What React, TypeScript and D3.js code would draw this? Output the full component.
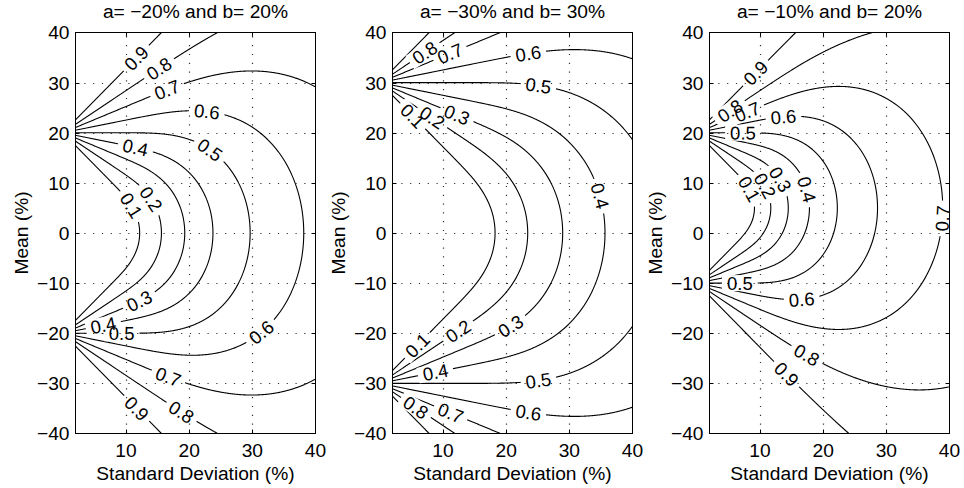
import React, { useMemo } from 'react';
import * as d3 from 'd3';

// ---- data ----
const PANEL_TITLES = ['a= \u221220% and b= 20%', 'a= \u221230% and b= 30%', 'a= \u221210% and b= 20%'];
const LOWER_A = [-20, -30, -10];
const UPPER_B = [20, 30, 20];
const LEVELS = [0.1, 0.2, 0.3, 0.4, 0.5, 0.6, 0.7, 0.8, 0.9];
const SD_DOMAIN = [2, 40];
const MEAN_DOMAIN = [-40, 40];
const X_TICKS = [10, 20, 30, 40];
const Y_TICKS = [-40, -30, -20, -10, 0, 10, 20, 30, 40];
const GRID_X = [10, 20, 30];
const GRID_Y = [-30, -20, -10, 0, 10, 20, 30];

// contour label positions [level, sd, mean]
const LABELS_P1 = [
  [0.9, 11.7, 34.8], [0.8, 15.1, 33.1], [0.7, 16.5, 28.6], [0.6, 22.8, 23.8], [0.5, 23.1, 16.2],
  [0.4, 11.45, 16.9], [0.2, 13.6, 6.5], [0.1, 10.4, 5.2], [0.3, 12.0, -13.4], [0.4, 6.4, -18.6],
  [0.5, 9.3, -20.4], [0.6, 31.2, -19.5], [0.7, 16.7, -28.7], [0.9, 11.7, -35.0], [0.8, 18.6, -36.0],
];
const LABELS_P2 = [
  [0.8, 7.2, 35.8], [0.7, 11.1, 35.8], [0.6, 23.5, 35.8], [0.5, 25.1, 29.2], [0.1, 5.1, 23.2],
  [0.2, 8.2, 22.8], [0.3, 12.2, 23.5], [0.4, 34.4, 7.2], [0.1, 5.9, -22.4], [0.2, 12.5, -19.7],
  [0.3, 20.8, -18.7], [0.4, 8.8, -28.0], [0.5, 25.1, -29.7], [0.6, 23.5, -36.0], [0.8, 5.6, -35.0],
  [0.7, 11.1, -36.0],
];
const LABELS_P3 = [
  [0.9, 9.4, 31.8], [0.8, 5.2, 24.5], [0.7, 7.9, 24.5], [0.6, 13.7, 23.0], [0.5, 7.3, 19.7],
  [0.4, 16.8, 8.5], [0.3, 12.6, 10.2], [0.2, 10.0, 8.9], [0.1, 7.9, 8.5], [0.7, 38.7, 2.9],
  [0.5, 6.8, -10.1], [0.6, 16.6, -13.3], [0.8, 17.4, -24.4], [0.9, 14.0, -28.4],
];
const PANEL_LABELS = [LABELS_P1, LABELS_P2, LABELS_P3];

// ---- layout ----
const W = 964;
const H = 488;
const PANEL_LEFT = [75.5, 392.5, 709.5];
const PANEL_W = 240;
const TOP = 32.5;
const BOTTOM = 433.5;
const FONT = '"Liberation Sans", Arial, Helvetica, sans-serif';
const FS = 19.2;
const LFS = 18.5;
const SD_STEP = 0.1;
const MEAN_STEP = 0.1;

function erf(x: number) {
  const sign = x < 0 ? -1 : 1;
  const ax = Math.abs(x);
  const t = 1 / (1 + 0.3275911 * ax);
  const y = 1 - ((((1.061405429 * t - 1.453152027) * t + 1.421413741) * t - 0.284496736) * t + 0.254829592) * t * Math.exp(-ax * ax);
  return sign * y;
}
const Phi = (z: number) => 0.5 * (1 + erf(z / Math.SQRT2));

// probability of ending outside [a, b] for a normal with the given mean and sd
function outside(a: number, b: number, m: number, s: number) {
  return Phi((a - m) / s) + 1 - Phi((b - m) / s);
}

type Pt = [number, number];

function contourLines(vals: Float64Array, nx: number, ny: number, xs: number[], ys: number[], level: number): Pt[][] {
  const pts = new Map<number, Pt>();
  const adj = new Map<number, number[]>();
  const H_ = (i: number, j: number) => 2 * (j * nx + i);
  const V_ = (i: number, j: number) => 2 * (j * nx + i) + 1;
  const getPt = (id: number): Pt => {
    let p = pts.get(id);
    if (p) return p;
    const base = id >> 1;
    const i = base % nx;
    const j = Math.floor(base / nx);
    if ((id & 1) === 0) {
      const va = vals[j * nx + i], vb = vals[j * nx + i + 1];
      const t = (level - va) / (vb - va);
      p = [xs[i] + t * (xs[i + 1] - xs[i]), ys[j]];
    } else {
      const va = vals[j * nx + i], vb = vals[(j + 1) * nx + i];
      const t = (level - va) / (vb - va);
      p = [xs[i], ys[j] + t * (ys[j + 1] - ys[j])];
    }
    pts.set(id, p);
    return p;
  };
  const link = (a: number, b: number) => {
    getPt(a); getPt(b);
    if (!adj.has(a)) adj.set(a, []);
    if (!adj.has(b)) adj.set(b, []);
    adj.get(a)!.push(b);
    adj.get(b)!.push(a);
  };
  for (let j = 0; j < ny - 1; j++) {
    for (let i = 0; i < nx - 1; i++) {
      const v00 = vals[j * nx + i], v10 = vals[j * nx + i + 1];
      const v01 = vals[(j + 1) * nx + i], v11 = vals[(j + 1) * nx + i + 1];
      const c = (v00 > level ? 1 : 0) | (v10 > level ? 2 : 0) | (v11 > level ? 4 : 0) | (v01 > level ? 8 : 0);
      if (c === 0 || c === 15) continue;
      const bottom = H_(i, j), top = H_(i, j + 1), left = V_(i, j), right = V_(i + 1, j);
      if (c === 5 || c === 10) {
        const center = (v00 + v10 + v01 + v11) / 4 > level;
        if ((c === 5) === center) {
          link(bottom, right); link(top, left);
        } else {
          link(bottom, left); link(right, top);
        }
        continue;
      }
      const es: number[] = [];
      if ((v00 > level) !== (v10 > level)) es.push(bottom);
      if ((v10 > level) !== (v11 > level)) es.push(right);
      if ((v01 > level) !== (v11 > level)) es.push(top);
      if ((v00 > level) !== (v01 > level)) es.push(left);
      if (es.length === 2) link(es[0], es[1]);
    }
  }
  const lines: Pt[][] = [];
  const take = (start: number) => {
    const line: Pt[] = [pts.get(start)!];
    let cur = start;
    for (;;) {
      const nb = adj.get(cur);
      if (!nb || nb.length === 0) break;
      const nxt = nb.pop()!;
      const l2 = adj.get(nxt)!;
      const k = l2.indexOf(cur);
      if (k >= 0) l2.splice(k, 1);
      line.push(pts.get(nxt)!);
      cur = nxt;
    }
    return line;
  };
  for (const [id, nb] of adj) if (nb.length === 1) lines.push(take(id));
  for (const [id, nb] of adj) if (nb.length > 0) lines.push(take(id));
  return lines;
}

function Panel({ p }: { p: number }) {
  const left = PANEL_LEFT[p];
  const x = d3.scaleLinear().domain(SD_DOMAIN).range([left, left + PANEL_W]);
  const y = d3.scaleLinear().domain(MEAN_DOMAIN).range([BOTTOM, TOP]);

  const { paths, labels } = useMemo(() => {
    const xs = d3.range(SD_DOMAIN[0], SD_DOMAIN[1] + SD_STEP / 2, SD_STEP);
    const ys = d3.range(MEAN_DOMAIN[0], MEAN_DOMAIN[1] + MEAN_STEP / 2, MEAN_STEP);
    const nx = xs.length, ny = ys.length;
    const vals = new Float64Array(nx * ny);
    for (let j = 0; j < ny; j++)
      for (let i = 0; i < nx; i++) vals[j * nx + i] = outside(LOWER_A[p], UPPER_B[p], ys[j], xs[i]);
    const byLevel = new Map<number, Pt[][]>();
    for (const lv of LEVELS) {
      const lines = contourLines(vals, nx, ny, xs, ys, lv).map((l) => l.map(([s, m]) => [x(s), y(m)] as Pt));
      byLevel.set(lv, lines);
    }
    const line = d3.line<Pt>().x((d) => d[0]).y((d) => d[1]);
    const paths: string[] = [];
    byLevel.forEach((lines) => lines.forEach((l) => { if (l.length > 1) paths.push(line(l) || ''); }));
    const labels = PANEL_LABELS[p].map(([lv, s0, m0]) => {
      const px = x(s0), py = y(m0);
      let best = Infinity, bl: Pt[] | null = null, bk = 0;
      for (const l of byLevel.get(lv) || []) {
        for (let k = 0; k < l.length; k++) {
          const d = (l[k][0] - px) ** 2 + (l[k][1] - py) ** 2;
          if (d < best) { best = d; bl = l; bk = k; }
        }
      }
      if (!bl) return null;
      const a = bl[Math.max(0, bk - 5)], b = bl[Math.min(bl.length - 1, bk + 5)];
      let ang = (Math.atan2(b[1] - a[1], b[0] - a[0]) * 180) / Math.PI;
      if (ang > 90) ang -= 180;
      if (ang < -90) ang += 180;
      return { lv, cx: bl[bk][0], cy: bl[bk][1], ang };
    }).filter(Boolean) as { lv: number; cx: number; cy: number; ang: number }[];
    return { paths, labels };
  }, [p]);

  const maskId = `gap${p}`;
  const tw = LFS * 1.39;
  const fmt = (v: number) => (v < 0 ? '\u2212' + Math.abs(v) : String(v));

  return (
    <g>
      <defs>
        <mask id={maskId} maskUnits="userSpaceOnUse" x={0} y={0} width={W} height={H}>
          <rect x={0} y={0} width={W} height={H} fill="white" />
          {labels.map((l, i) => (
            <rect key={i} x={-(tw + 10) / 2} y={-8} width={tw + 10} height={16} fill="black"
              transform={`translate(${l.cx},${l.cy}) rotate(${l.ang})`} />
          ))}
        </mask>
      </defs>
      {/* grid */}
      <g stroke="#333" strokeWidth={1.2} strokeDasharray="1.2 7.6">
        {GRID_X.map((v) => (
          <line key={'gx' + v} x1={Math.round(x(v)) + 0.5} x2={Math.round(x(v)) + 0.5} y1={BOTTOM} y2={TOP} />
        ))}
        {GRID_Y.map((v) => (
          <line key={'gy' + v} x1={left} x2={left + PANEL_W} y1={Math.round(y(v)) + 0.5} y2={Math.round(y(v)) + 0.5} />
        ))}
      </g>
      {/* contours */}
      <g mask={`url(#${maskId})`} fill="none" stroke="#000" strokeWidth={1.1} strokeLinejoin="round">
        {paths.map((d, i) => <path key={i} d={d} />)}
      </g>
      {labels.map((l, i) => (
        <text key={i} x={0} y={0} dy="0.36em" textAnchor="middle" fontSize={LFS} fontFamily={FONT}
          transform={`translate(${l.cx},${l.cy}) rotate(${l.ang})`}>{l.lv.toFixed(1)}</text>
      ))}
      {/* ticks */}
      <g stroke="#000" strokeWidth={1}>
        {GRID_X.map((v) => (
          <g key={'tx' + v}>
            <line x1={Math.round(x(v)) + 0.5} x2={Math.round(x(v)) + 0.5} y1={BOTTOM} y2={BOTTOM - 4} />
            <line x1={Math.round(x(v)) + 0.5} x2={Math.round(x(v)) + 0.5} y1={TOP} y2={TOP + 4} />
          </g>
        ))}
        {GRID_Y.map((v) => (
          <g key={'ty' + v}>
            <line x1={left} x2={left + 4} y1={Math.round(y(v)) + 0.5} y2={Math.round(y(v)) + 0.5} />
            <line x1={left + PANEL_W} x2={left + PANEL_W - 4} y1={Math.round(y(v)) + 0.5} y2={Math.round(y(v)) + 0.5} />
          </g>
        ))}
      </g>
      <rect x={left} y={TOP} width={PANEL_W} height={BOTTOM - TOP} fill="none" stroke="#000" strokeWidth={1} />
      {/* tick labels */}
      <g fontSize={FS} fontFamily={FONT} fill="#000">
        {X_TICKS.map((v) => (
          <text key={'xl' + v} x={x(v)} y={457} textAnchor="middle">{fmt(v)}</text>
        ))}
        {Y_TICKS.map((v) => (
          <text key={'yl' + v} x={left - 6} y={y(v)} dy="0.36em" textAnchor="end">{fmt(v)}</text>
        ))}
        <text x={left + PANEL_W / 2} y={17.5} textAnchor="middle">{PANEL_TITLES[p]}</text>
        <text x={left + PANEL_W / 2} y={480} textAnchor="middle">Standard Deviation (%)</text>
        <text transform={`translate(${left - 47.5},${(TOP + BOTTOM) / 2}) rotate(-90)`} textAnchor="middle">Mean (%)</text>
      </g>
    </g>
  );
}

export default function App() {
  return (
    <svg width={W} height={H} viewBox={`0 0 ${W} ${H}`} style={{ position: 'absolute', left: 0, top: 0, background: '#fff' }}>
      <rect x={0} y={0} width={W} height={H} fill="#fff" />
      {[0, 1, 2].map((p) => <Panel key={p} p={p} />)}
    </svg>
  );
}
